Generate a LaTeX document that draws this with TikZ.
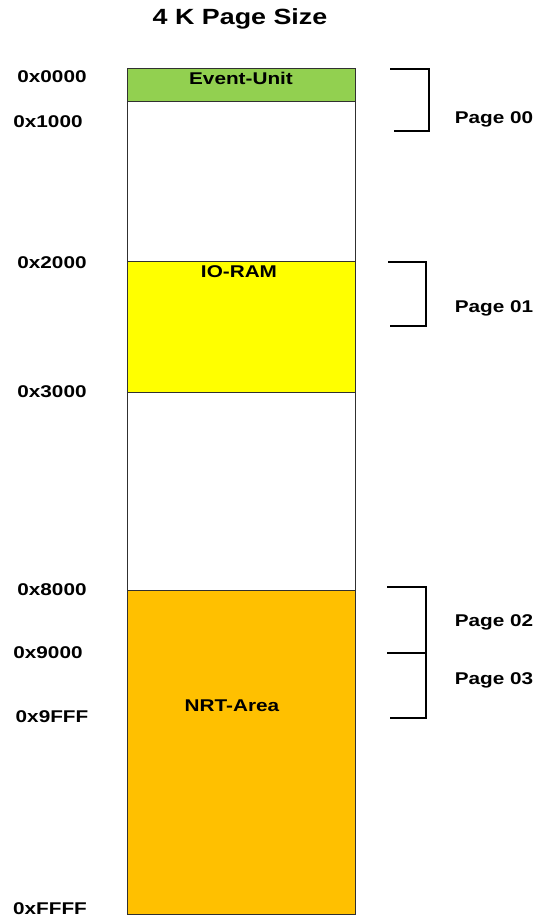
\documentclass[tikz,border=0pt]{standalone}
\usepackage{fontspec}
\setmainfont{Liberation Sans}
\definecolor{evgreen}{HTML}{92D050}
\definecolor{ioyellow}{HTML}{FFFF00}
\definecolor{nrtorange}{HTML}{FFC000}
\definecolor{boxline}{HTML}{303030}
\newcommand{\lbl}[1]{\scalebox{1.22}[1]{\fontsize{17}{20}\selectfont\bfseries #1}}
\begin{document}
\begin{tikzpicture}[x=1pt,y=-1pt,
  region/.style={draw=boxline, line width=0.8pt, inner sep=0pt},
  txt/.style={inner sep=0pt, anchor=center},
  brk/.style={draw=black, line width=2pt}]
\useasboundingbox (0,0) rectangle (536,922);
% title
\node[txt] (title) at (240,19) {\scalebox{1.22}[1]{\fontsize{22}{26}\selectfont\bfseries 4 K Page Size}};
% regions
\path[region, fill=white] (127,68) rectangle (355,914);
\path[region, fill=evgreen] (127,68) rectangle (355,101);
\path[region, fill=ioyellow] (127,261) rectangle (355,392);
\path[region, fill=nrtorange] (127,590) rectangle (355,914);
\node[txt] (ev) at (241,78) {\lbl{Event-Unit}};
\node[txt] (io) at (239,272) {\lbl{IO-RAM}};
\node[txt] (nrt) at (232,706) {\lbl{NRT-Area}};
% addresses
\node[txt] (a0) at (52,77) {\lbl{0x0000}};
\node[txt] (a1) at (48,122) {\lbl{0x1000}};
\node[txt] (a2) at (52,263) {\lbl{0x2000}};
\node[txt] (a3) at (52,392) {\lbl{0x3000}};
\node[txt] (a8) at (52,590) {\lbl{0x8000}};
\node[txt] (a9) at (48,653) {\lbl{0x9000}};
\node[txt] (a9f) at (52,717) {\lbl{0x9FFF}};
\node[txt] (af) at (50,909) {\lbl{0xFFFF}};
% page labels
\node[txt] (p0) at (494,119) {\lbl{Page 00}};
\node[txt] (p1) at (494,308) {\lbl{Page 01}};
\node[txt] (p2) at (494,622) {\lbl{Page 02}};
\node[txt] (p3) at (494,680) {\lbl{Page 03}};
% brackets
\draw[brk] (390,69) -- (429,69) -- (429,131) -- (394,131);
\draw[brk] (388,262) -- (426,262) -- (426,326) -- (390,326);
\draw[brk] (387,587) -- (426,587) -- (426,718) -- (390,718);
\draw[brk] (387,653) -- (426,653);
\end{tikzpicture}
\end{document}
